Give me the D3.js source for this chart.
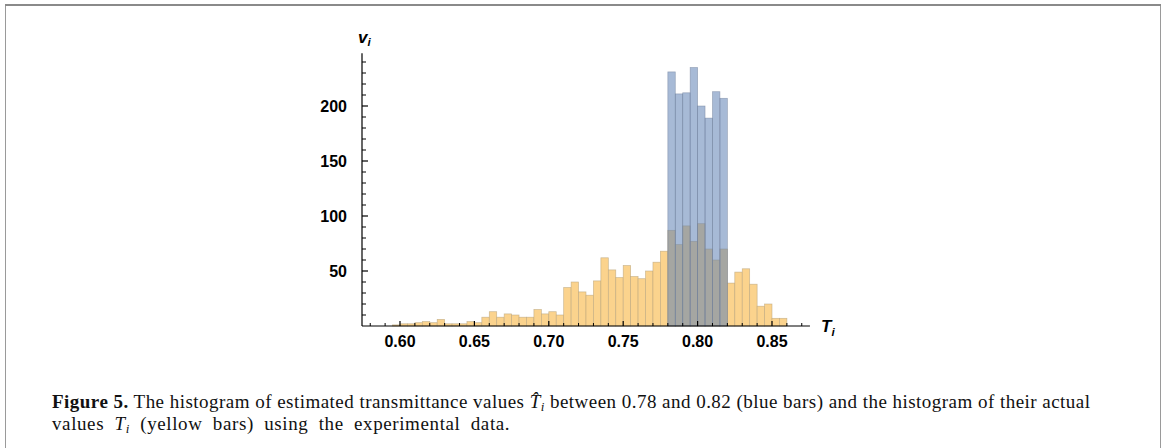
<!DOCTYPE html>
<html>
<head>
<meta charset="utf-8">
<script src="https://cdn.jsdelivr.net/npm/d3@7/dist/d3.min.js"></script>
<style>
  html, body { margin: 0; padding: 0; background: #fff; }
  svg { display: block; }
</style>
</head>
<body>
<svg id="chart" width="1166" height="448"></svg>
<script>
// ---- data ----
const yellowBinStart = [0.595,0.600,0.605,0.610,0.615,0.620,0.625,0.630,0.635,0.640,0.645,0.650,0.655,0.660,0.665,0.670,0.675,0.680,0.685,0.690,0.695,0.700,0.705,0.710,0.715,0.720,0.725,0.730,0.735,0.740,0.745,0.750,0.755,0.760,0.765,0.770,0.775,0.780,0.785,0.790,0.795,0.800,0.805,0.810,0.815,0.820,0.825,0.830,0.835,0.840,0.845,0.850,0.855];
const yellowCounts   = [1,2,2,3,4,3,6,2,2,2,4,3,8,13,8,11,10,8,8,15,11,13,10,35,40,31,28,41,62,51,44,55,45,43,50,58,68,87,74,91,77,93,70,60,70,39,49,52,38,18,20,7,7];
const blueBinStart   = [0.780,0.785,0.790,0.795,0.800,0.805,0.810,0.815];
const blueCounts     = [231,211,212,235,200,189,213,207];
const binWidth = 0.005;
const xMajorTicks = [0.60,0.65,0.70,0.75,0.80,0.85];
const xTickLabels = ["0.60","0.65","0.70","0.75","0.80","0.85"];
const xMinorTicks = [0.58,0.59,0.61,0.62,0.63,0.64,0.66,0.67,0.68,0.69,0.71,0.72,0.73,0.74,0.76,0.77,0.78,0.79,0.81,0.82,0.83,0.84,0.86,0.87];
const yMajorTicks = [50,100,150,200];
const yTickLabels = ["50","100","150","200"];
const yMinorTicks = [10,20,30,40,60,70,80,90,110,120,130,140,160,170,180,190,210,220,230,240];

const svg = d3.select("#chart");

// frame (open at the bottom)
svg.append("rect").attr("x",5.5).attr("y",5.5).attr("width",1155).attr("height",460)
  .attr("fill","none").attr("stroke","#9a9a9a").attr("stroke-width",1);
svg.append("line").attr("x1",5).attr("x2",1161).attr("y1",5).attr("y2",5)
  .attr("stroke","#8a8a8a").attr("stroke-width",2);

// scales
const x = d3.scaleLinear().domain([0.60, 0.85]).range([400, 772]);
const y = d3.scaleLinear().domain([0, 200]).range([326, 106]);
const xAxisStart = x.invert(362), xAxisEnd = 0.8755;
const yAxisTop = 248;

const g = svg.append("g");

// yellow bars
g.selectAll("rect.yellow").data(yellowCounts).join("rect")
  .attr("class","yellow")
  .attr("x", (d,i) => x(yellowBinStart[i]))
  .attr("width", (d,i) => x(yellowBinStart[i] + binWidth) - x(yellowBinStart[i]))
  .attr("y", d => y(d))
  .attr("height", d => y(0) - y(d))
  .attr("fill", "#fbd38d")
  .attr("stroke", "#b8a27a")
  .attr("stroke-opacity", 0.7)
  .attr("stroke-width", 0.7);

// blue bars (semi-transparent over yellow)
g.selectAll("rect.blue").data(blueCounts).join("rect")
  .attr("class","blue")
  .attr("x", (d,i) => x(blueBinStart[i]))
  .attr("width", (d,i) => x(blueBinStart[i] + binWidth) - x(blueBinStart[i]))
  .attr("y", d => y(d))
  .attr("height", d => y(0) - y(d))
  .attr("fill", "rgb(94,129,181)")
  .attr("fill-opacity", 0.55)
  .attr("stroke", "#6f7f99")
  .attr("stroke-opacity", 0.6)
  .attr("stroke-width", 0.7);

// x axis
const xAxisG = svg.append("g");
xAxisG.append("line").attr("x1", x(xAxisStart)).attr("x2", x(xAxisEnd))
  .attr("y1", y(0)).attr("y2", y(0)).attr("stroke","#000").attr("stroke-width",1.2);
xAxisG.selectAll("line.xmaj").data(xMajorTicks).join("line")
  .attr("x1", d => x(d)).attr("x2", d => x(d))
  .attr("y1", y(0)).attr("y2", y(0) - 5).attr("stroke","#000").attr("stroke-width",1.2);
xAxisG.selectAll("line.xmin").data(xMinorTicks).join("line")
  .attr("x1", d => x(d)).attr("x2", d => x(d))
  .attr("y1", y(0)).attr("y2", y(0) - 3).attr("stroke","#000").attr("stroke-width",1);
xAxisG.selectAll("text").data(xMajorTicks).join("text")
  .attr("x", d => x(d)).attr("y", 347)
  .attr("text-anchor","middle")
  .attr("font-family","Liberation Sans, Arial, sans-serif")
  .attr("font-weight","bold").attr("font-size", 16)
  .text((d,i) => xTickLabels[i]);

// y axis
const yAxisG = svg.append("g");
yAxisG.append("line").attr("x1", x(xAxisStart)).attr("x2", x(xAxisStart))
  .attr("y1", y(0)).attr("y2", y(yAxisTop)).attr("stroke","#000").attr("stroke-width",1.2);
yAxisG.selectAll("line.ymaj").data(yMajorTicks).join("line")
  .attr("x1", x(xAxisStart)).attr("x2", x(xAxisStart) + 6)
  .attr("y1", d => y(d)).attr("y2", d => y(d)).attr("stroke","#000").attr("stroke-width",1.2);
yAxisG.selectAll("line.ymin").data(yMinorTicks).join("line")
  .attr("x1", x(xAxisStart)).attr("x2", x(xAxisStart) + 4)
  .attr("y1", d => y(d)).attr("y2", d => y(d)).attr("stroke","#000").attr("stroke-width",1);
yAxisG.selectAll("text").data(yMajorTicks).join("text")
  .attr("x", x(xAxisStart) - 15).attr("y", d => y(d) + 5.5)
  .attr("text-anchor","end")
  .attr("font-family","Liberation Sans, Arial, sans-serif")
  .attr("font-weight","bold").attr("font-size", 16)
  .text((d,i) => yTickLabels[i]);

// axis labels
const vLab = svg.append("text").attr("x", 358).attr("y", 43)
  .attr("font-family","Liberation Sans, Arial, sans-serif")
  .attr("font-weight","bold").attr("font-style","italic").attr("font-size", 17);
vLab.append("tspan").text("v");
vLab.append("tspan").attr("font-size", 11.5).attr("dy", 3).text("i");

const tLab = svg.append("text").attr("x", 821).attr("y", 332)
  .attr("font-family","Liberation Sans, Arial, sans-serif")
  .attr("font-weight","bold").attr("font-style","italic").attr("font-size", 17);
tLab.append("tspan").text("T");
tLab.append("tspan").attr("font-size", 11.5).attr("dy", 4).text("i");

// caption
const capFont = "Liberation Serif, Times New Roman, serif";
const c1 = svg.append("text").attr("x", 52).attr("y", 408)
  .attr("font-family", capFont).attr("font-size", 19).attr("fill","#111")
  .attr("textLength", 1038).attr("lengthAdjust", "spacing");
c1.append("tspan").attr("font-weight","bold").text("Figure 5.");
c1.append("tspan").text(" The histogram of estimated transmittance values ");
c1.append("tspan").attr("font-style","italic").text("T\u0302");
c1.append("tspan").attr("font-style","italic").attr("font-size", 13).attr("dy", 3).text("i");
c1.append("tspan").attr("dy", -3).text(" between 0.78 and 0.82 (blue bars) and the histogram of their actual");

const c2 = svg.append("text").attr("x", 52).attr("y", 430)
  .attr("font-family", capFont).attr("font-size", 19).attr("fill","#111")
  .style("letter-spacing", "0.6px").style("word-spacing", "5px");
c2.append("tspan").text("values ");
c2.append("tspan").attr("font-style","italic").text("T");
c2.append("tspan").attr("font-style","italic").attr("font-size", 13).attr("dy", 3).text("i");
c2.append("tspan").attr("dy", -3).text(" (yellow bars) using the experimental data.");
</script>
</body>
</html>
